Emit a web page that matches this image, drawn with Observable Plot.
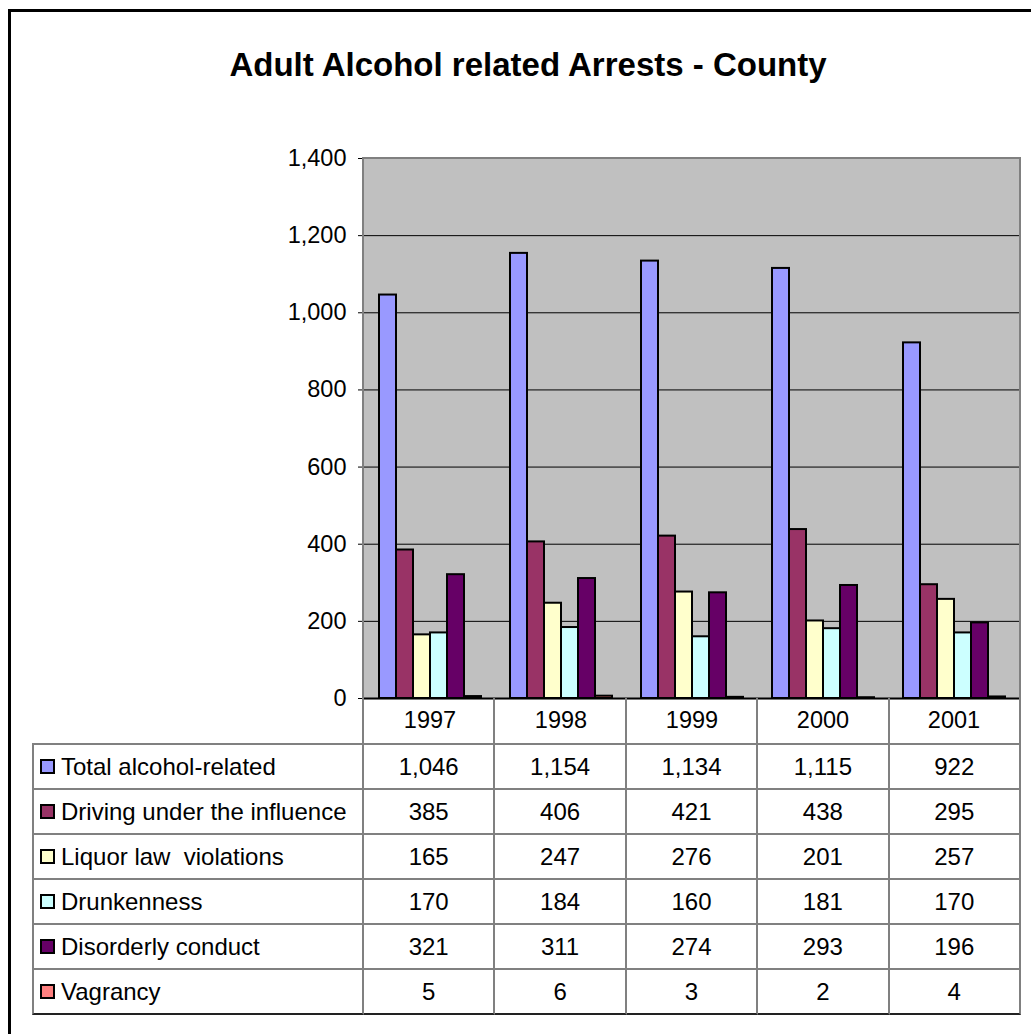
<!DOCTYPE html>
<html><head><meta charset="utf-8">
<script src="https://cdn.jsdelivr.net/npm/d3@7"></script>
<script src="https://cdn.jsdelivr.net/npm/@observablehq/plot@0.6"></script>
<style>
body{margin:0;background:#fff;font-family:"Liberation Sans",Arial,sans-serif;}
#wrap{position:relative;width:1031px;height:1034px;overflow:hidden;background:#fff;}
#frame{position:absolute;left:8px;top:9px;width:1100px;height:1100px;border-left:3px solid #000;border-top:3px solid #000;}
#title{position:absolute;left:0;width:1056px;top:48px;text-align:center;font-weight:bold;font-size:33px;line-height:1;color:#000;}
#chart{position:absolute;left:0;top:0;}
#plotborder{position:absolute;left:362px;top:157px;width:659px;height:541px;box-sizing:border-box;border-left:2px solid #808080;border-top:2px solid #808080;border-right:2px solid #808080;pointer-events:none;}
#tbl{position:absolute;left:32px;top:698px;display:grid;grid-template-columns:332px repeat(5,131.4px);grid-template-rows:47px repeat(6,45px);}
#tbl div.c{box-sizing:border-box;border-right:2px solid #808080;border-bottom:2px solid #808080;display:flex;align-items:center;justify-content:center;font-size:24px;color:#000;}
#tbl div.lab{justify-content:flex-start;border-left:2px solid #808080;padding-left:6px;white-space:pre;}
#tbl div.last{border-bottom:2px solid #222;}
#tbl div.hd{border-bottom:2px solid #808080;}
.sw{display:inline-block;width:11px;height:11px;border:2px solid #000;margin-right:6px;}
</style>
</head><body>
<div id="wrap">
  <div id="frame"></div>
  <div id="title">Adult Alcohol related Arrests - County</div>
  <div id="chart"></div>
  <div id="plotborder"></div>
  <div id="tbl"></div>
</div>
<script>
const years = ["1997", "1998", "1999", "2000", "2001"];
const series = ["Total alcohol-related", "Driving under the influence", "Liquor law  violations", "Drunkenness", "Disorderly conduct", "Vagrancy"];
const totalAlcohol = [1046, 1154, 1134, 1115, 922];
const drivingUnderInfluence = [385, 406, 421, 438, 295];
const liquorLaw = [165, 247, 276, 201, 257];
const drunkenness = [170, 184, 160, 181, 170];
const disorderly = [321, 311, 274, 293, 196];
const vagrancy = [5, 6, 3, 2, 4];
const colors = ["#9999ff", "#993366", "#ffffcc", "#ccffff", "#660066", "#ff8080"];
const yTicks = [0, 200, 400, 600, 800, 1000, 1200, 1400];

const values = [totalAlcohol, drivingUnderInfluence, liquorLaw, drunkenness, disorderly, vagrancy];
const data = series.flatMap((s, i) => years.map((y, j) => ({year: y, series: s, value: values[i][j]})));

const chart = Plot.plot({
  width: 1031,
  height: 745,
  marginTop: 158,
  marginBottom: 47,
  marginLeft: 363,
  marginRight: 11,
  style: {fontFamily: "'Liberation Sans', Arial, sans-serif", fontSize: "23.5px", color: "#000", background: "transparent", overflow: "visible"},
  fx: {domain: years, padding: 0, label: null, tickSize: 0, tickPadding: 13},
  x: {domain: series, paddingInner: 0, paddingOuter: 0.75, axis: null},
  y: {domain: [0, 1400], ticks: yTicks, tickFormat: d3.format(","), label: null, tickSize: 6, tickPadding: 12},
  color: {domain: series, range: colors},
  marks: [
    Plot.frame({fill: "#c0c0c0", stroke: "#c0c0c0", strokeWidth: 1.5}),
    Plot.ruleY(yTicks.filter(t => t > 0 && t < 1400), {stroke: "#000", strokeWidth: 1}),
    Plot.barY(data, {fx: "year", x: "series", y: "value", fill: "series", stroke: "#000", strokeWidth: 2}),
    Plot.ruleY([0], {stroke: "#000", strokeWidth: 2})
  ]
});
document.getElementById("chart").appendChild(chart);

const fmt = d3.format(",");
const tbl = document.getElementById("tbl");
function cell(cls, html) {
  const d = document.createElement("div");
  d.className = "c " + cls;
  d.innerHTML = html;
  tbl.appendChild(d);
  return d;
}
cell("hd", "");
years.forEach(() => cell("hd", ""));
series.forEach((s, i) => {
  const last = i === series.length - 1 ? " last" : "";
  const lab = cell("lab" + last, "");
  const sw = document.createElement("span");
  sw.className = "sw";
  sw.style.background = colors[i];
  lab.appendChild(sw);
  lab.appendChild(document.createTextNode(s));
  values[i].forEach(v => cell(last, fmt(v)));
});
</script>
</body></html>
